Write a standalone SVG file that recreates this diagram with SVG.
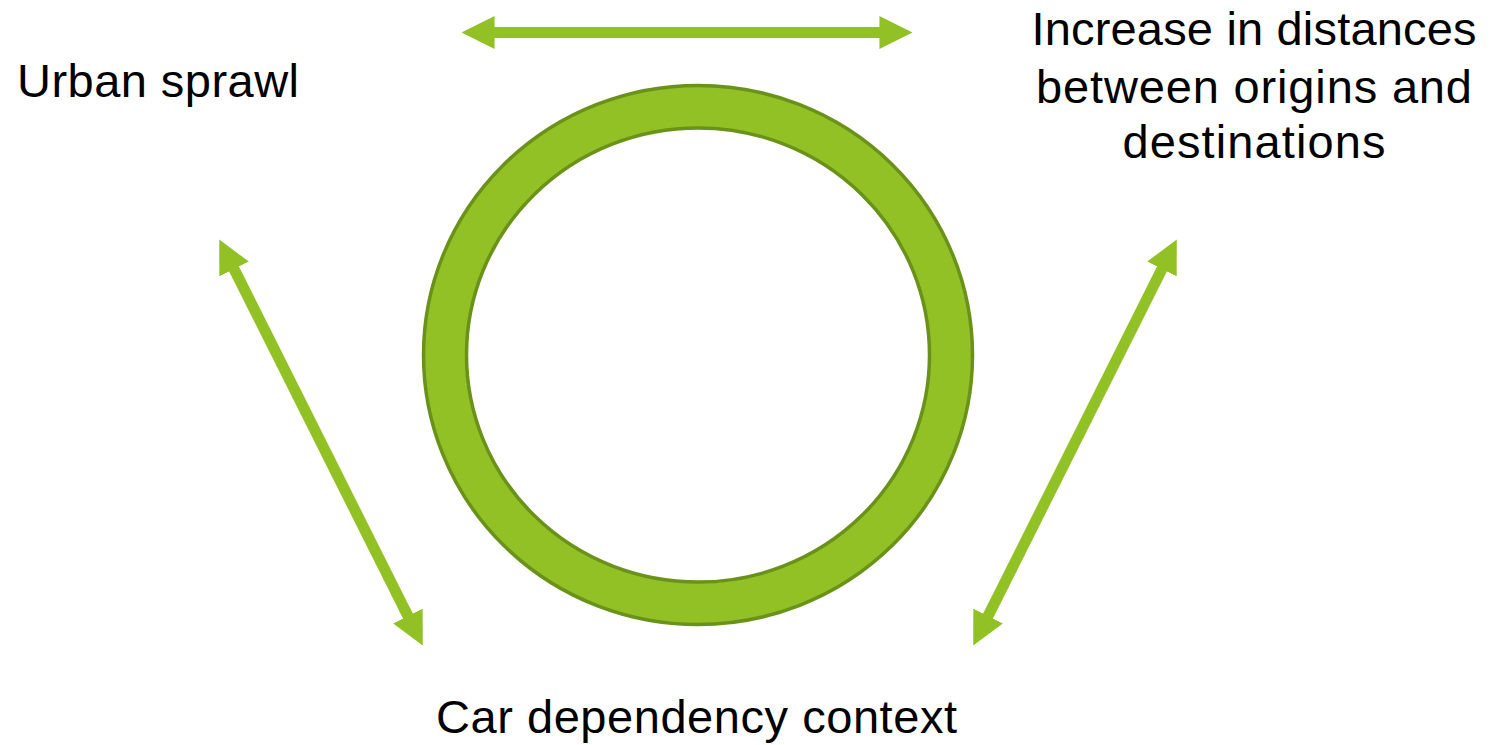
<svg xmlns="http://www.w3.org/2000/svg" width="1489" height="745" viewBox="0 0 1489 745">
  <style>
    .lbl { font-family: "Liberation Sans", Arial, sans-serif; font-size: 47px; fill: #000; }
    .conn { stroke: #92C126; stroke-width: 11; fill: none; marker-start: url(#head); marker-end: url(#head); }
    .ring { fill: #92C126; stroke: #6A9119; stroke-width: 3.5; fill-rule: evenodd; }
  </style>
  <defs>
    <marker id="head" viewBox="0 0 3 3" refX="0.05" refY="1.5" markerWidth="3" markerHeight="3" markerUnits="strokeWidth" orient="auto-start-reverse">
      <path d="M0,0 L3,1.5 L0,3 Z" fill="#92C126"/>
    </marker>
  </defs>
  <rect width="1489" height="745" fill="#FFFFFF"/>

  <g id="cycle-ring">
    <path class="ring" d="M423.5,355 A274.5,269.5 0 1 0 972.5,355 A274.5,269.5 0 1 0 423.5,355 Z M466.5,355 A231.5,227 0 1 1 929.5,355 A231.5,227 0 1 1 466.5,355 Z"/>
  </g>

  <g id="connectors">
    <line class="conn" x1="494" y1="32.5" x2="880" y2="32.5"/>
    <line class="conn" x1="233.8" y1="268.5" x2="408.2" y2="616.5"/>
    <line class="conn" x1="1162.2" y1="268.5" x2="987.8" y2="616.5"/>
  </g>

  <g id="node-urban-sprawl">
    <text class="lbl" x="17" y="97" textLength="282" lengthAdjust="spacing">Urban sprawl</text>
  </g>
  <g id="node-distances">
    <text class="lbl" x="1254" y="45" text-anchor="middle" textLength="445" lengthAdjust="spacing">Increase in distances</text>
    <text class="lbl" x="1254" y="103" text-anchor="middle" textLength="436" lengthAdjust="spacing">between origins and</text>
    <text class="lbl" x="1254" y="158" text-anchor="middle" textLength="263" lengthAdjust="spacing">destinations</text>
  </g>
  <g id="node-car-dependency">
    <text class="lbl" x="696.5" y="733" text-anchor="middle" textLength="521" lengthAdjust="spacing">Car dependency context</text>
  </g>
</svg>
